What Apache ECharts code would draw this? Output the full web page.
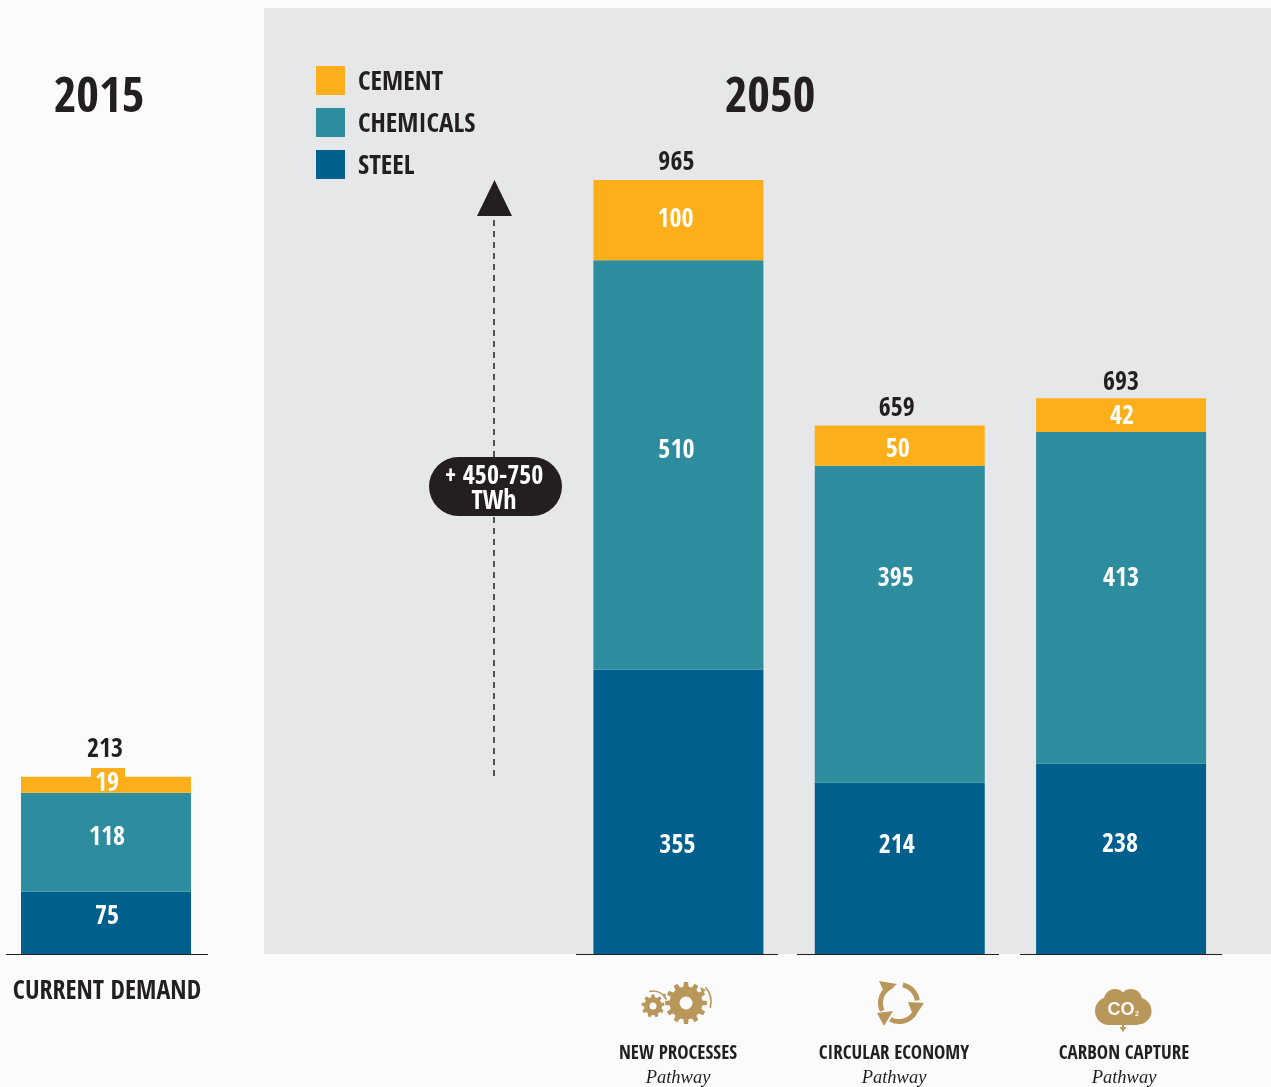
<!DOCTYPE html>
<html><head><meta charset="utf-8">
<style>html,body{margin:0;padding:0;background:#fbfbfb}#c{width:1271px;height:1087px}</style>
<script src="https://cdn.jsdelivr.net/npm/echarts@6/dist/echarts.min.js"></script>
</head><body><div id="c"></div>
<script>
const currentCategories = ['CURRENT DEMAND'];
const currentSteel = [75];
const currentChemicals = [118];
const currentCement = [19];
const currentTotals = [213];
const pathwayCategories = ['NEW PROCESSES', 'CIRCULAR ECONOMY', 'CARBON CAPTURE'];
const pathwaySteel = [355, 214, 238];
const pathwayChemicals = [510, 395, 413];
const pathwayCement = [100, 50, 42];
const pathwayTotals = [965, 659, 693];
const rangeLabel = '+ 450-750\nTWh';

const FONT = '"Open Sans Condensed","Roboto Condensed",sans-serif';
const INK = '#231f20', ORANGE = '#fcaf1a', TEAL = '#2d8c9e', BLUE = '#005f8c', GOLD = '#b9975b', BG = '#fbfbfb', PANEL = '#e6e7e8';

// label placement nudges, relative to the centre of each segment
const nudge = {
  steel0: [[1, -6]], chem0: [[1, -4]], cement0: [[1, -1]], total0: [[-1, -6]],
  steel1: [[-1, 34], [-3, -22], [-1, -14]],
  chem1: [[-2, -14], [-4, -45], [0, -19]],
  cement1: [[-3, 0], [-2, 5], [1, 2]],
  total1: [[-2, 3], [-3, 4], [0, 5]]
};

function barSeries(name, color, vals, g, key) {
  return {
    type: 'bar', name, stack: 'g' + g, xAxisIndex: g, yAxisIndex: g,
    barWidth: 170, itemStyle: { color }, silent: true,
    label: { show: true, position: 'inside', color: '#fff', fontFamily: FONT, fontWeight: 'bold', fontSize: 26 },
    data: vals.map((v, i) => ({ value: v, label: { offset: nudge[key + g][i] } }))
  };
}
function totalSeries(vals, g) {
  return {
    type: 'scatter', xAxisIndex: g, yAxisIndex: g, symbolSize: 0, silent: true, clip: false,
    itemStyle: { opacity: 1 },
    label: { show: true, position: 'top', distance: 7, color: INK, fontFamily: FONT, fontWeight: 'bold', fontSize: 26, formatter: p => p.value },
    data: vals.map((v, i) => ({ value: v, label: { offset: nudge['total' + g][i] } })),
    z: 5
  };
}
function gearPoints(cx, cy, rOuter, rBody, teeth) {
  const step = Math.PI * 2 / teeth, pts = [];
  for (let i = 0; i < teeth; i++) {
    const a = i * step - Math.PI / 2;
    [[rBody, a - step * .30], [rOuter, a - step * .19], [rOuter, a + step * .19], [rBody, a + step * .30]]
      .forEach(p => pts.push([cx + p[0] * Math.cos(p[1]), cy + p[0] * Math.sin(p[1])]));
  }
  return pts;
}
const circle = (cx, cy, r, fill) => ({ type: 'circle', shape: { cx, cy, r }, style: { fill }, silent: true });
const arc = (cx, cy, r, s, e, w) => ({ type: 'arc', shape: { cx, cy, r, startAngle: s, endAngle: e }, style: { stroke: GOLD, lineWidth: w, fill: null }, silent: true });
const poly = (points, fill) => ({ type: 'polygon', shape: { points }, style: { fill: fill || GOLD }, silent: true });
const txt = (x, y, text, font, fill, align) => ({ type: 'text', x, y, style: { text, font, fill, align: align || 'center', verticalAlign: 'middle' }, silent: true });
const rad = d => d * Math.PI / 180;

const segs = [[6, 208], [576, 778], [797, 999], [1020, 1222]].map(s => ({ type: 'line', shape: { x1: s[0], y1: 954.5, x2: s[1], y2: 954.5 }, style: { stroke: INK, lineWidth: 1 }, z: 20, silent: true }));

const icons = [
  poly(gearPoints(686, 1003, 21, 16.5, 12)),
  circle(686, 1003, 6.5, BG),
  poly(gearPoints(653, 1006, 11.5, 9, 9)),
  circle(653, 1006, 3.5, BG),
  arc(653, 1006, 15, rad(-105), rad(-25), 1.5),
  poly([[662, 994], [666, 994], [664.5, 999]]),
  arc(688, 1002, 23, rad(-40), rad(15), 1.6),
  poly([[700, 987], [706, 990], [702, 993]]),
  arc(899, 1003, 18.5, rad(-78), rad(-8), 5),
  poly([[908, 1002], [924, 1003], [914, 1018]]),
  arc(899, 1003, 18.5, rad(30), rad(118), 5),
  poly([[893, 1011], [884, 1026], [877, 1013]]),
  arc(899, 1003, 18.5, rad(155), rad(250), 5),
  poly([[879, 981], [897, 984], [885, 994]]),
  circle(1109, 1011, 14, GOLD), circle(1115, 1000, 11, GOLD), circle(1131, 1000, 11, GOLD),
  circle(1138, 1011, 13.5, GOLD), circle(1123, 1004, 12, GOLD),
  { type: 'rect', shape: { x: 1109, y: 1006, width: 29, height: 19 }, style: { fill: GOLD }, silent: true },
  { type: 'rect', shape: { x: 1122, y: 1024, width: 2, height: 5 }, style: { fill: GOLD }, silent: true },
  poly([[1119.5, 1027], [1126.5, 1027], [1123, 1032]]),
  txt(1121, 1010, 'CO', 'bold 18px "Liberation Sans",sans-serif', BG),
  txt(1137, 1014, '2', 'bold 7px "Liberation Sans",sans-serif', BG)
];

const pathwayLabelX = [678, 894, 1124];
const labels = [
  ...pathwayCategories.map((c, i) => txt(pathwayLabelX[i], 1054.5, c, 'bold 19px ' + FONT, INK)),
  ...pathwayCategories.map((c, i) => txt(pathwayLabelX[i], 1078, 'Pathway', 'italic 18.5px "Liberation Serif",serif', INK)),
  txt(107, 992, currentCategories[0], 'bold 26px ' + FONT, INK)
];

const option = {
  backgroundColor: BG,
  animation: false,
  title: [
    { text: '2015', left: 94, top: 70, textAlign: 'center', textStyle: { fontFamily: FONT, fontWeight: 'bold', fontSize: 49, color: INK } },
    { text: '2050', left: 765, top: 70, textAlign: 'center', textStyle: { fontFamily: FONT, fontWeight: 'bold', fontSize: 49, color: INK } }
  ],
  legend: {
    left: 316, top: 65, padding: 0, orient: 'vertical', itemWidth: 29, itemHeight: 29, itemGap: 11, selectedMode: false,
    icon: 'rect', data: ['CEMENT', 'CHEMICALS', 'STEEL'],
    formatter: '{a|{name}}',
    textStyle: { rich: { a: { fontFamily: FONT, fontWeight: 'bold', fontSize: 27, lineHeight: 25, color: INK, padding: [4, 0, 0, 8] } } }
  },
  grid: [
    { left: 21, width: 170, top: 776, height: 178.5 },
    { left: 567.75, width: 664, top: 180, height: 774.5 }
  ],
  xAxis: [
    { gridIndex: 0, type: 'category', data: currentCategories, show: false },
    { gridIndex: 1, type: 'category', data: pathwayCategories, show: false }
  ],
  yAxis: [
    { gridIndex: 0, type: 'value', min: 0, max: 213, show: false },
    { gridIndex: 1, type: 'value', min: 0, max: 965, show: false }
  ],
  graphic: { elements: [
    { type: 'rect', shape: { x: 264, y: 8, width: 1007, height: 946 }, style: { fill: PANEL }, z: -10, silent: true },
    { type: 'rect', shape: { x: 91, y: 768, width: 34, height: 10 }, style: { fill: ORANGE }, silent: true },
    { type: 'line', shape: { x1: 494, y1: 220, x2: 494, y2: 778 }, style: { stroke: INK, lineWidth: 1.5, lineDash: [6, 5] }, silent: true },
    poly([[494.5, 180], [477, 216], [512, 216]], INK),
    { type: 'rect', shape: { x: 429, y: 457, width: 133, height: 59, r: 29.5 }, style: { fill: INK }, silent: true },
    { type: 'text', x: 494, y: 489.5, style: { text: rangeLabel, font: 'bold 26px ' + FONT, fill: '#fff', align: 'center', verticalAlign: 'middle', lineHeight: 25 }, silent: true },
    ...segs, ...icons, ...labels
  ] },
  series: [
    barSeries('STEEL', BLUE, currentSteel, 0, 'steel'),
    barSeries('CHEMICALS', TEAL, currentChemicals, 0, 'chem'),
    barSeries('CEMENT', ORANGE, currentCement, 0, 'cement'),
    totalSeries(currentTotals, 0),
    barSeries('STEEL', BLUE, pathwaySteel, 1, 'steel'),
    barSeries('CHEMICALS', TEAL, pathwayChemicals, 1, 'chem'),
    barSeries('CEMENT', ORANGE, pathwayCement, 1, 'cement'),
    totalSeries(pathwayTotals, 1)
  ]
};
echarts.init(document.getElementById('c'), null, { renderer: 'canvas' }).setOption(option);
</script></body></html>
